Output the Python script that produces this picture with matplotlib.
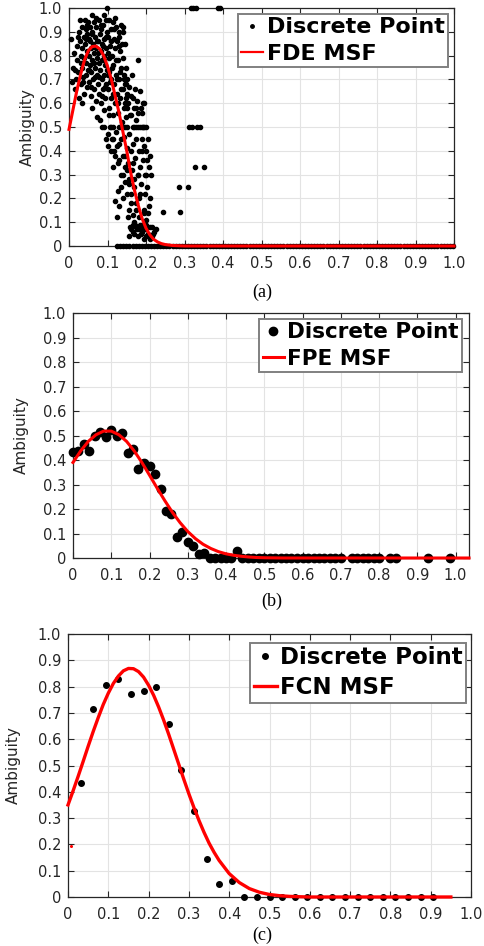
import matplotlib
matplotlib.use('Agg')
import matplotlib.pyplot as plt

# ---------------- data ----------------
xticks = [0, 0.1, 0.2, 0.3, 0.4, 0.5, 0.6, 0.7, 0.8, 0.9, 1.0]
tick_labels = ['0', '0.1', '0.2', '0.3', '0.4', '0.5', '0.6', '0.7', '0.8', '0.9', '1.0']

# Panel (a): FDE discrete points (non-zero ambiguity)
a_pts_x = [0.005, 0.008, 0.01, 0.012, 0.015, 0.018, 0.02, 0.022, 0.024, 0.025, 0.027, 0.028, 0.03, 0.031,
           0.033, 0.034, 0.035, 0.036, 0.038, 0.039, 0.04, 0.041, 0.042, 0.043, 0.044, 0.045, 0.046, 0.047,
           0.048, 0.049, 0.05,
           0.051, 0.052, 0.053, 0.054, 0.055, 0.056, 0.057, 0.058, 0.059, 0.06, 0.061, 0.062, 0.063, 0.064,
           0.065, 0.066, 0.067, 0.068, 0.069, 0.07, 0.071, 0.072, 0.073, 0.074, 0.075, 0.076, 0.077, 0.078,
           0.079, 0.08, 0.081, 0.082, 0.083, 0.084, 0.085, 0.086, 0.087, 0.088, 0.089, 0.09, 0.091, 0.092,
           0.093, 0.094, 0.095, 0.096, 0.097, 0.098, 0.099, 0.1,
           0.08, 0.085, 0.09, 0.095, 0.1, 0.1, 0.092, 0.099,
           0.101, 0.102, 0.103, 0.104, 0.105, 0.106, 0.107, 0.108, 0.109, 0.11, 0.111, 0.112, 0.113, 0.114,
           0.115, 0.116, 0.117, 0.118, 0.119, 0.12, 0.121, 0.122, 0.123, 0.124, 0.125, 0.126, 0.127, 0.128,
           0.129, 0.13, 0.131, 0.132, 0.133, 0.134, 0.135, 0.136, 0.137, 0.138, 0.139, 0.14, 0.141, 0.142,
           0.143, 0.144, 0.145, 0.146, 0.147, 0.148, 0.149, 0.15,
           0.12, 0.125, 0.13, 0.128, 0.135, 0.14, 0.145, 0.15, 0.115,
           0.11, 0.115, 0.13, 0.135, 0.14, 0.145, 0.15,
           0.14, 0.145, 0.13, 0.15, 0.15,
           0.151, 0.152, 0.153, 0.154, 0.155, 0.156, 0.157, 0.158, 0.159, 0.16, 0.161, 0.162, 0.163, 0.164,
           0.165, 0.166, 0.167, 0.168, 0.169, 0.17, 0.171, 0.172, 0.173, 0.174, 0.175, 0.176, 0.177, 0.178,
           0.179, 0.18, 0.181, 0.182, 0.183, 0.184, 0.185, 0.186, 0.187, 0.188, 0.189, 0.19, 0.191, 0.192,
           0.193, 0.194, 0.195, 0.196, 0.197, 0.198, 0.199, 0.2,
           0.155, 0.16, 0.165, 0.17, 0.175, 0.18, 0.185, 0.19, 0.195, 0.2, 0.205, 0.21, 0.215, 0.22, 0.225,
           0.2, 0.21, 0.195, 0.19, 0.175, 0.18,
           0.201, 0.203, 0.205, 0.207, 0.21, 0.212, 0.215, 0.205, 0.202, 0.208, 0.21,
           0.316, 0.322, 0.33, 0.386, 0.392,
           0.312, 0.32, 0.333, 0.34, 0.327, 0.35, 0.287, 0.31, 0.289, 0.244,
           0.032, 0.037, 0.043, 0.047, 0.052, 0.055, 0.058, 0.061, 0.064, 0.067, 0.07, 0.073, 0.076, 0.079,
           0.082, 0.085, 0.088, 0.091, 0.094, 0.097, 0.1, 0.103, 0.106, 0.109, 0.112, 0.115, 0.118, 0.121,
           0.124, 0.127, 0.13, 0.133, 0.136, 0.139, 0.142, 0.145, 0.148,
           0.105, 0.11, 0.115, 0.12, 0.125, 0.13, 0.135, 0.14, 0.145, 0.15, 0.155, 0.16, 0.165, 0.17,
           0.175, 0.18, 0.185, 0.19, 0.195, 0.2,
           0.16, 0.17, 0.165, 0.175, 0.185, 0.19, 0.195,
           0.155, 0.165, 0.172, 0.182, 0.2, 0.218,
           0.023, 0.016, 0.028, 0.035, 0.06, 0.09, 0.12]
a_pts_y = [0.87, 0.69, 0.75, 0.81, 0.66, 0.70, 0.84, 0.78, 0.73, 0.90, 0.62, 0.86, 0.80, 0.68,
           0.92, 0.75, 0.83, 0.71, 0.88, 0.64, 0.79, 0.95, 0.85, 0.72, 0.91, 0.77, 0.67, 0.82,
           0.89, 0.74, 0.94,
           0.80, 0.69, 0.87, 0.76, 0.92, 0.63, 0.83, 0.73, 0.90, 0.78, 0.58, 0.85, 0.70, 0.94,
           0.81, 0.66, 0.88, 0.75, 0.61, 0.83, 0.92, 0.72, 0.79, 0.54, 0.86, 0.68, 0.95, 0.77,
           0.64, 0.89, 0.74, 0.82, 0.60, 0.91, 0.70, 0.85, 0.78, 0.66, 0.93, 0.80, 0.72, 0.87,
           0.62, 0.76, 0.95, 0.83, 0.68, 0.90, 0.74, 0.81,
           0.53, 0.50, 0.50, 0.45, 0.42, 0.47, 0.57, 1.00,
           0.88, 0.66, 0.95, 0.73, 0.58, 0.84, 0.50, 0.91, 0.70, 0.62, 0.80, 0.45, 0.94, 0.76,
           0.55, 0.87, 0.68, 0.40, 0.83, 0.60, 0.92, 0.72, 0.48, 0.86, 0.64, 0.35, 0.78, 0.56,
           0.90, 0.70, 0.43, 0.82, 0.62, 0.30, 0.93, 0.75, 0.52, 0.85, 0.66, 0.38, 0.79, 0.58,
           0.72, 0.46, 0.68, 0.27, 0.62, 0.54, 0.75, 0.41,
           0.19, 0.12, 0.17, 0.23, 0.25, 0.20, 0.33, 0.22, 0.33,
           0.50, 0.50, 0.50, 0.50, 0.50, 0.50, 0.50,
           0.90, 0.85, 0.88, 0.64, 0.58,
           0.70, 0.35, 0.60, 0.12, 0.47, 0.67, 0.28, 0.08, 0.55, 0.40, 0.63, 0.18, 0.32, 0.72,
           0.50, 0.06, 0.43, 0.58, 0.25, 0.10, 0.66, 0.37, 0.53, 0.15, 0.45, 0.61, 0.07, 0.30,
           0.56, 0.78, 0.20, 0.40, 0.12, 0.50, 0.33, 0.58, 0.05, 0.26, 0.45, 0.09, 0.50, 0.36,
           0.60, 0.14, 0.42, 0.07, 0.30, 0.22, 0.50, 0.11,
           0.04, 0.07, 0.09, 0.05, 0.08, 0.04, 0.09, 0.06, 0.03, 0.07, 0.05, 0.08, 0.04, 0.06, 0.07,
           0.09, 0.03, 0.50, 0.50, 0.50, 0.50,
           0.40, 0.25, 0.14, 0.33, 0.20, 0.30, 0.08, 0.45, 0.36, 0.17, 0.38,
           1.00, 1.00, 1.00, 1.00, 1.00,
           0.50, 0.50, 0.50, 0.50, 0.333, 0.333, 0.25, 0.25, 0.143, 0.143,
           0.77, 0.69, 0.87, 0.93, 0.74, 0.86, 0.67, 0.89, 0.77, 0.71, 0.96, 0.86, 0.81, 0.71,
           0.93, 0.63, 0.84, 0.78, 0.67, 0.88, 0.72, 0.79, 0.69, 0.86, 0.75, 0.64, 0.91, 0.78,
           0.70, 0.60, 0.84, 0.73, 0.66, 0.92, 0.70, 0.60, 0.68,
           0.55, 0.40, 0.45, 0.38, 0.42, 0.36, 0.45, 0.30, 0.38, 0.32, 0.26, 0.22, 0.35, 0.28,
           0.18, 0.30, 0.22, 0.40, 0.15, 0.30,
           0.55, 0.50, 0.62, 0.58, 0.65, 0.56, 0.60,
           0.15, 0.13, 0.09, 0.07, 0.04, 0.05,
           0.88, 0.74, 0.95, 0.60, 0.97, 0.97, 0.96]
# Panel (a): FDE discrete points with zero ambiguity
a_zero_x = [0.125, 0.133, 0.141, 0.149, 0.157, 0.165, 0.173, 0.181, 0.189, 0.197, 0.205, 0.213, 0.221,
            0.229, 0.237, 0.245, 0.253, 0.261, 0.269, 0.277, 0.285, 0.293, 0.301, 0.309, 0.317, 0.325,
            0.333, 0.341, 0.349, 0.357, 0.365, 0.373, 0.381, 0.389, 0.397, 0.405, 0.413, 0.421, 0.429,
            0.437, 0.445, 0.453, 0.461, 0.469, 0.477, 0.485, 0.493, 0.501, 0.509, 0.517, 0.525, 0.533,
            0.541, 0.549, 0.557, 0.565, 0.573, 0.581, 0.589, 0.597, 0.605, 0.613, 0.621, 0.629, 0.637,
            0.645, 0.653, 0.661, 0.669, 0.677, 0.685, 0.693, 0.701, 0.709, 0.717, 0.725, 0.733, 0.741,
            0.749, 0.757, 0.765, 0.773, 0.781, 0.789, 0.797, 0.805, 0.813, 0.821, 0.829, 0.837, 0.845,
            0.853, 0.861, 0.869, 0.877, 0.885, 0.893, 0.901, 0.909, 0.917, 0.925, 0.933, 0.941, 0.949,
            0.957, 0.965, 0.973, 0.981, 0.989, 0.997]
a_zero_y = [0.0] * len(a_zero_x)
# Panel (a): FDE MSF curve
a_curve_x = [0.00, 0.01, 0.02, 0.03, 0.04, 0.05, 0.06, 0.07, 0.08, 0.09, 0.10, 0.11, 0.12, 0.13, 0.14,
             0.15, 0.16, 0.17, 0.18, 0.19, 0.20, 0.21, 0.22, 0.23, 0.24, 0.25, 0.27, 0.30, 1.00]
a_curve_y = [0.49, 0.57, 0.65, 0.72, 0.78, 0.82, 0.838, 0.84, 0.828, 0.80, 0.755, 0.70, 0.63, 0.56,
             0.48, 0.40, 0.31, 0.235, 0.17, 0.115, 0.075, 0.047, 0.028, 0.017, 0.010, 0.006, 0.002, 0.0, 0.0]

# Panel (b): FPE discrete points
b_pts_x = [0.0, 0.014, 0.029, 0.043, 0.057, 0.071, 0.086, 0.100, 0.114, 0.129, 0.143, 0.157, 0.171,
           0.186, 0.200, 0.214, 0.229, 0.243, 0.257, 0.271, 0.286, 0.300, 0.314, 0.329, 0.343, 0.357,
           0.371, 0.386, 0.400, 0.414, 0.429, 0.443, 0.457, 0.471, 0.486, 0.500, 0.514, 0.529, 0.543,
           0.557, 0.571, 0.586, 0.600, 0.614, 0.629, 0.643, 0.657, 0.671, 0.686, 0.700, 0.729, 0.743,
           0.757, 0.771, 0.786, 0.800, 0.829, 0.843, 0.929, 0.986]
b_pts_y = [0.434, 0.438, 0.464, 0.438, 0.498, 0.516, 0.495, 0.522, 0.498, 0.509, 0.427, 0.445, 0.363,
           0.389, 0.377, 0.344, 0.282, 0.192, 0.181, 0.084, 0.107, 0.064, 0.050, 0.016, 0.019, 0.0,
           0.0, 0.0, 0.0, 0.0, 0.030, 0.0, 0.0, 0.0, 0.0, 0.0, 0.0, 0.0, 0.0,
           0.0, 0.0, 0.0, 0.0, 0.0, 0.0, 0.0, 0.0, 0.0, 0.0, 0.0, 0.0, 0.0,
           0.0, 0.0, 0.0, 0.0, 0.0, 0.0, 0.0, 0.0]
# Panel (b): FPE MSF curve
b_curve_x = [0.00, 0.02, 0.04, 0.06, 0.08, 0.10, 0.12, 0.14, 0.16, 0.18, 0.20, 0.22, 0.24, 0.26, 0.28,
             0.30, 0.32, 0.34, 0.36, 0.38, 0.40, 0.42, 0.44, 0.46, 0.48, 0.50, 0.55, 1.035]
b_curve_y = [0.39, 0.437, 0.476, 0.503, 0.518, 0.518, 0.503, 0.476, 0.437, 0.39, 0.338, 0.285, 0.234,
             0.186, 0.144, 0.108, 0.079, 0.056, 0.039, 0.026, 0.017, 0.011, 0.007, 0.004, 0.002, 0.001,
             0.0, 0.0]

# Panel (c): FCN discrete points
c_pts_x = [0.03125, 0.0625, 0.09375, 0.125, 0.15625, 0.1875, 0.21875, 0.25, 0.28125, 0.3125, 0.34375,
           0.375, 0.40625, 0.4375, 0.46875, 0.5, 0.53125, 0.5625, 0.59375, 0.625, 0.65625, 0.6875,
           0.71875, 0.75, 0.78125, 0.8125, 0.84375, 0.875, 0.90625]
c_pts_y = [0.435, 0.714, 0.807, 0.828, 0.771, 0.782, 0.798, 0.659, 0.484, 0.327, 0.144, 0.049, 0.062,
           0.0, 0.0, 0.0, 0.0, 0.0, 0.0, 0.0, 0.0, 0.0, 0.0, 0.0, 0.0, 0.0, 0.0, 0.0, 0.0]
c_stray_x = [0.0075]
c_stray_y = [0.195]
# Panel (c): FCN MSF curve
c_curve_x = [0.0, 0.0125, 0.025, 0.0375, 0.05, 0.0625, 0.075, 0.0875, 0.1, 0.1125, 0.125, 0.1375, 0.15,
             0.1625, 0.175, 0.1875, 0.2, 0.2125, 0.225, 0.2375, 0.25, 0.2625, 0.275, 0.2875, 0.3, 0.3125,
             0.325, 0.3375, 0.35, 0.3625, 0.375, 0.4, 0.425, 0.45, 0.475, 0.5, 0.525, 0.55, 0.575, 0.6,
             0.95]
c_curve_y = [0.35, 0.403, 0.458, 0.515, 0.573, 0.629, 0.682, 0.732, 0.775, 0.812, 0.84, 0.86, 0.869,
             0.868, 0.857, 0.836, 0.805, 0.767, 0.722, 0.672, 0.618, 0.561, 0.504, 0.447, 0.392, 0.34,
             0.291, 0.246, 0.205, 0.17, 0.139, 0.089, 0.055, 0.032, 0.018, 0.0095, 0.0049, 0.0023,
             0.001, 0.0, 0.0]

legend_point = 'Discrete Point'
legend_lines = ['FDE MSF', 'FPE MSF', 'FCN MSF']
captions = ['(a)', '(b)', '(c)']

# ---------------- layout ----------------
W, H = 484, 946
fig = plt.figure(figsize=(W / 100, H / 100), dpi=100)
plt.rcParams['font.family'] = ['DejaVu Sans']

DARK = '#262626'
RED = '#ff0000'


def px_axes(l, t, r, b):
    return fig.add_axes([l / W, 1 - b / H, (r - l) / W, (b - t) / H])


def style(ax, xmax, label_x):
    ax.set_xlim(0, xmax)
    ax.set_ylim(0, 1)
    ax.set_xticks(xticks)
    ax.set_xticklabels(tick_labels)
    ax.set_yticks(xticks)
    ax.set_yticklabels(tick_labels)
    ax.grid(True, color='#e3e3e3', linewidth=0.8)
    ax.set_axisbelow(True)
    ax.tick_params(direction='in', top=True, right=True, length=4, width=0.8,
                   colors=DARK, labelsize=10.5, pad=5)
    ax.tick_params(axis='x', pad=7)
    for s in ax.spines.values():
        s.set_color(DARK)
        s.set_linewidth(0.9)
    ax.set_ylabel('Ambiguity', fontsize=11, color=DARK)
    ax.yaxis.set_label_coords(label_x, 0.5)


def legend(ax, line_label, ms, lw, right, top, size):
    h1, = ax.plot([], [], linestyle='none', marker='o', color='black', ms=ms)
    h2, = ax.plot([], [], color=RED, lw=lw)
    leg = ax.legend([h1, h2], [legend_point, line_label], loc='upper right',
                    bbox_to_anchor=(right / W, 1 - top / H), bbox_transform=fig.transFigure,
                    borderaxespad=0, fancybox=False, framealpha=1, edgecolor='#808080',
                    prop=dict(weight='bold', size=size), handlelength=1.0, handletextpad=0.15,
                    borderpad=0.15, labelspacing=0.3)
    leg.get_frame().set_linewidth(1.4)
    return leg


# (a)
axa = px_axes(69, 8, 454, 246)
style(axa, 1.0, -0.088)
axa.plot(a_zero_x, a_zero_y, linestyle='none', marker='o', ms=3.0, color='black', clip_on=False, zorder=3)
axa.plot(a_pts_x, a_pts_y, linestyle='none', marker='o', ms=3.0, color='black', clip_on=False, zorder=3)
axa.plot(a_curve_x, a_curve_y, color=RED, lw=2.2, zorder=4, clip_on=False)
legend(axa, legend_lines[0], 2.5, 1.6, 448, 14, 16)

# (b)
axb = px_axes(73, 313, 469, 558)
style(axb, 1.035, -0.111)
axb.plot(b_pts_x, b_pts_y, linestyle='none', marker='o', ms=6.0, color='black', clip_on=False, zorder=3)
axb.plot(b_curve_x, b_curve_y, color=RED, lw=2.2, zorder=4, clip_on=False)
legend(axb, legend_lines[1], 6.0, 2.2, 462, 319, 15.5)

# (c)
axc = px_axes(68, 634, 471, 897)
style(axc, 1.0, -0.117)
axc.plot(c_pts_x, c_pts_y, linestyle='none', marker='o', ms=4.0, color='black', clip_on=False, zorder=3)
axc.plot(c_stray_x, c_stray_y, linestyle='none', marker='o', ms=1.2, color=RED, zorder=3)
axc.plot(c_curve_x, c_curve_y, color=RED, lw=2.4, zorder=4, clip_on=False)
legend(axc, legend_lines[2], 4.0, 2.4, 466, 643, 16.5)

# captions
for cx, cy, txt in [(262, 292, captions[0]), (272, 601, captions[1]), (262, 935, captions[2])]:
    fig.text(cx / W, 1 - cy / H, txt, ha='center', va='center', fontsize=13,
             family=['Liberation Serif', 'DejaVu Serif'], color='black')

fig.savefig('out.png', dpi=100, facecolor='white')
